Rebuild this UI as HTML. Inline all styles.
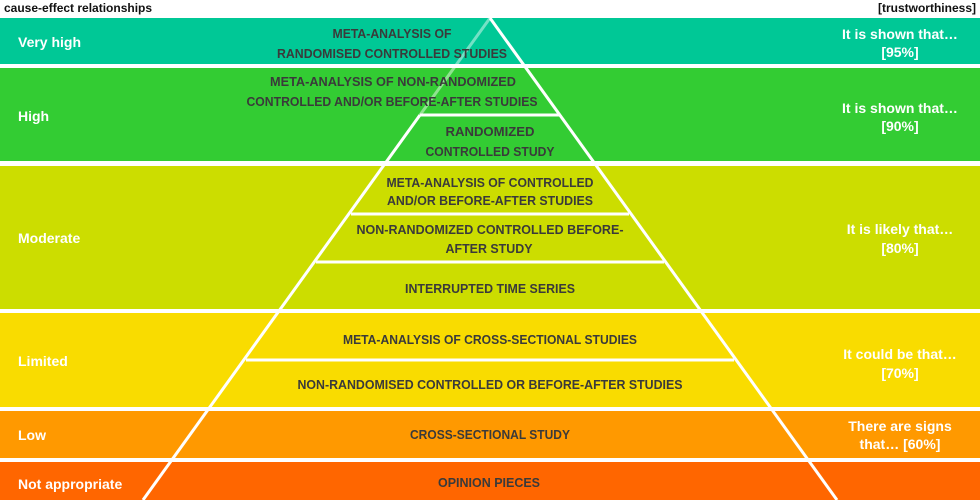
<!DOCTYPE html>
<html><head><meta charset="utf-8"><style>
html,body{margin:0;padding:0;background:#fff}
svg{display:block}
.d{font-family:"Liberation Sans",sans-serif;font-weight:bold;font-size:13px;fill:#3a3a3a}
.w{font-family:"Liberation Sans",sans-serif;font-weight:bold;font-size:14px;fill:#fff}
.t{font-family:"Liberation Sans",sans-serif;font-weight:bold;font-size:12px;fill:#111}
</style></head><body>
<svg width="980" height="500" viewBox="0 0 980 500" xmlns="http://www.w3.org/2000/svg">
<rect x="0" y="18" width="980" height="46" fill="#00c896"/>
<rect x="0" y="68" width="980" height="93" fill="#33cc33"/>
<rect x="0" y="166" width="980" height="143" fill="#ccdd00"/>
<rect x="0" y="313" width="980" height="94" fill="#f9dc00"/>
<rect x="0" y="411" width="980" height="47" fill="#ff9900"/>
<rect x="0" y="462" width="980" height="38" fill="#ff6600"/>
<g stroke="#fff" stroke-width="3">
<line x1="490" y1="18" x2="420" y2="115" stroke-opacity="0.45"/>
<line x1="420" y1="115" x2="143" y2="500"/>
<line x1="490" y1="18" x2="837" y2="500"/>
<line x1="420" y1="115" x2="560" y2="115"/>
<line x1="351" y1="214" x2="629" y2="214"/>
<line x1="316" y1="262" x2="664" y2="262"/>
<line x1="246" y1="360" x2="734" y2="360"/>
</g>
<text class="t" x="4" y="12">cause-effect relationships</text>
<text class="t" x="976" y="12" text-anchor="end">[trustworthiness]</text>
<text class="w" x="18" y="47">Very high</text>
<text class="w" x="18" y="121">High</text>
<text class="w" x="18" y="243">Moderate</text>
<text class="w" x="18" y="366">Limited</text>
<text class="w" x="18" y="440">Low</text>
<text class="w" x="18" y="489">Not appropriate</text>
<g text-anchor="middle">
<text class="w" x="900" y="39">It is shown that…</text><text class="w" x="900" y="57">[95%]</text>
<text class="w" x="900" y="113">It is shown that…</text><text class="w" x="900" y="131">[90%]</text>
<text class="w" x="900" y="234">It is likely that…</text><text class="w" x="900" y="253">[80%]</text>
<text class="w" x="900" y="359">It could be that…</text><text class="w" x="900" y="378">[70%]</text>
<text class="w" x="900" y="431">There are signs</text><text class="w" x="900" y="449">that… [60%]</text>
</g>
<g text-anchor="middle">
<text class="d" x="392" y="38" textLength="119" lengthAdjust="spacingAndGlyphs">META-ANALYSIS OF</text>
<text class="d" x="392" y="58" textLength="230" lengthAdjust="spacingAndGlyphs">RANDOMISED CONTROLLED STUDIES</text>
<text class="d" x="393" y="86" textLength="246" lengthAdjust="spacingAndGlyphs">META-ANALYSIS OF NON-RANDOMIZED</text>
<text class="d" x="392" y="106" textLength="291" lengthAdjust="spacingAndGlyphs">CONTROLLED AND/OR BEFORE-AFTER STUDIES</text>
<text class="d" x="490" y="136" textLength="89" lengthAdjust="spacingAndGlyphs">RANDOMIZED</text>
<text class="d" x="490" y="156" textLength="129" lengthAdjust="spacingAndGlyphs">CONTROLLED STUDY</text>
<text class="d" x="490" y="187" textLength="207" lengthAdjust="spacingAndGlyphs">META-ANALYSIS OF CONTROLLED</text>
<text class="d" x="490" y="205" textLength="206" lengthAdjust="spacingAndGlyphs">AND/OR BEFORE-AFTER STUDIES</text>
<text class="d" x="490" y="234" textLength="267" lengthAdjust="spacingAndGlyphs">NON-RANDOMIZED CONTROLLED BEFORE-</text>
<text class="d" x="489" y="253" textLength="87" lengthAdjust="spacingAndGlyphs">AFTER STUDY</text>
<text class="d" x="490" y="293" textLength="170" lengthAdjust="spacingAndGlyphs">INTERRUPTED TIME SERIES</text>
<text class="d" x="490" y="344" textLength="294" lengthAdjust="spacingAndGlyphs">META-ANALYSIS OF CROSS-SECTIONAL STUDIES</text>
<text class="d" x="490" y="389" textLength="385" lengthAdjust="spacingAndGlyphs">NON-RANDOMISED CONTROLLED OR BEFORE-AFTER STUDIES</text>
<text class="d" x="490" y="439" textLength="160" lengthAdjust="spacingAndGlyphs">CROSS-SECTIONAL STUDY</text>
<text class="d" x="489" y="487" textLength="102" lengthAdjust="spacingAndGlyphs">OPINION PIECES</text>
</g>
</svg>
</body></html>
